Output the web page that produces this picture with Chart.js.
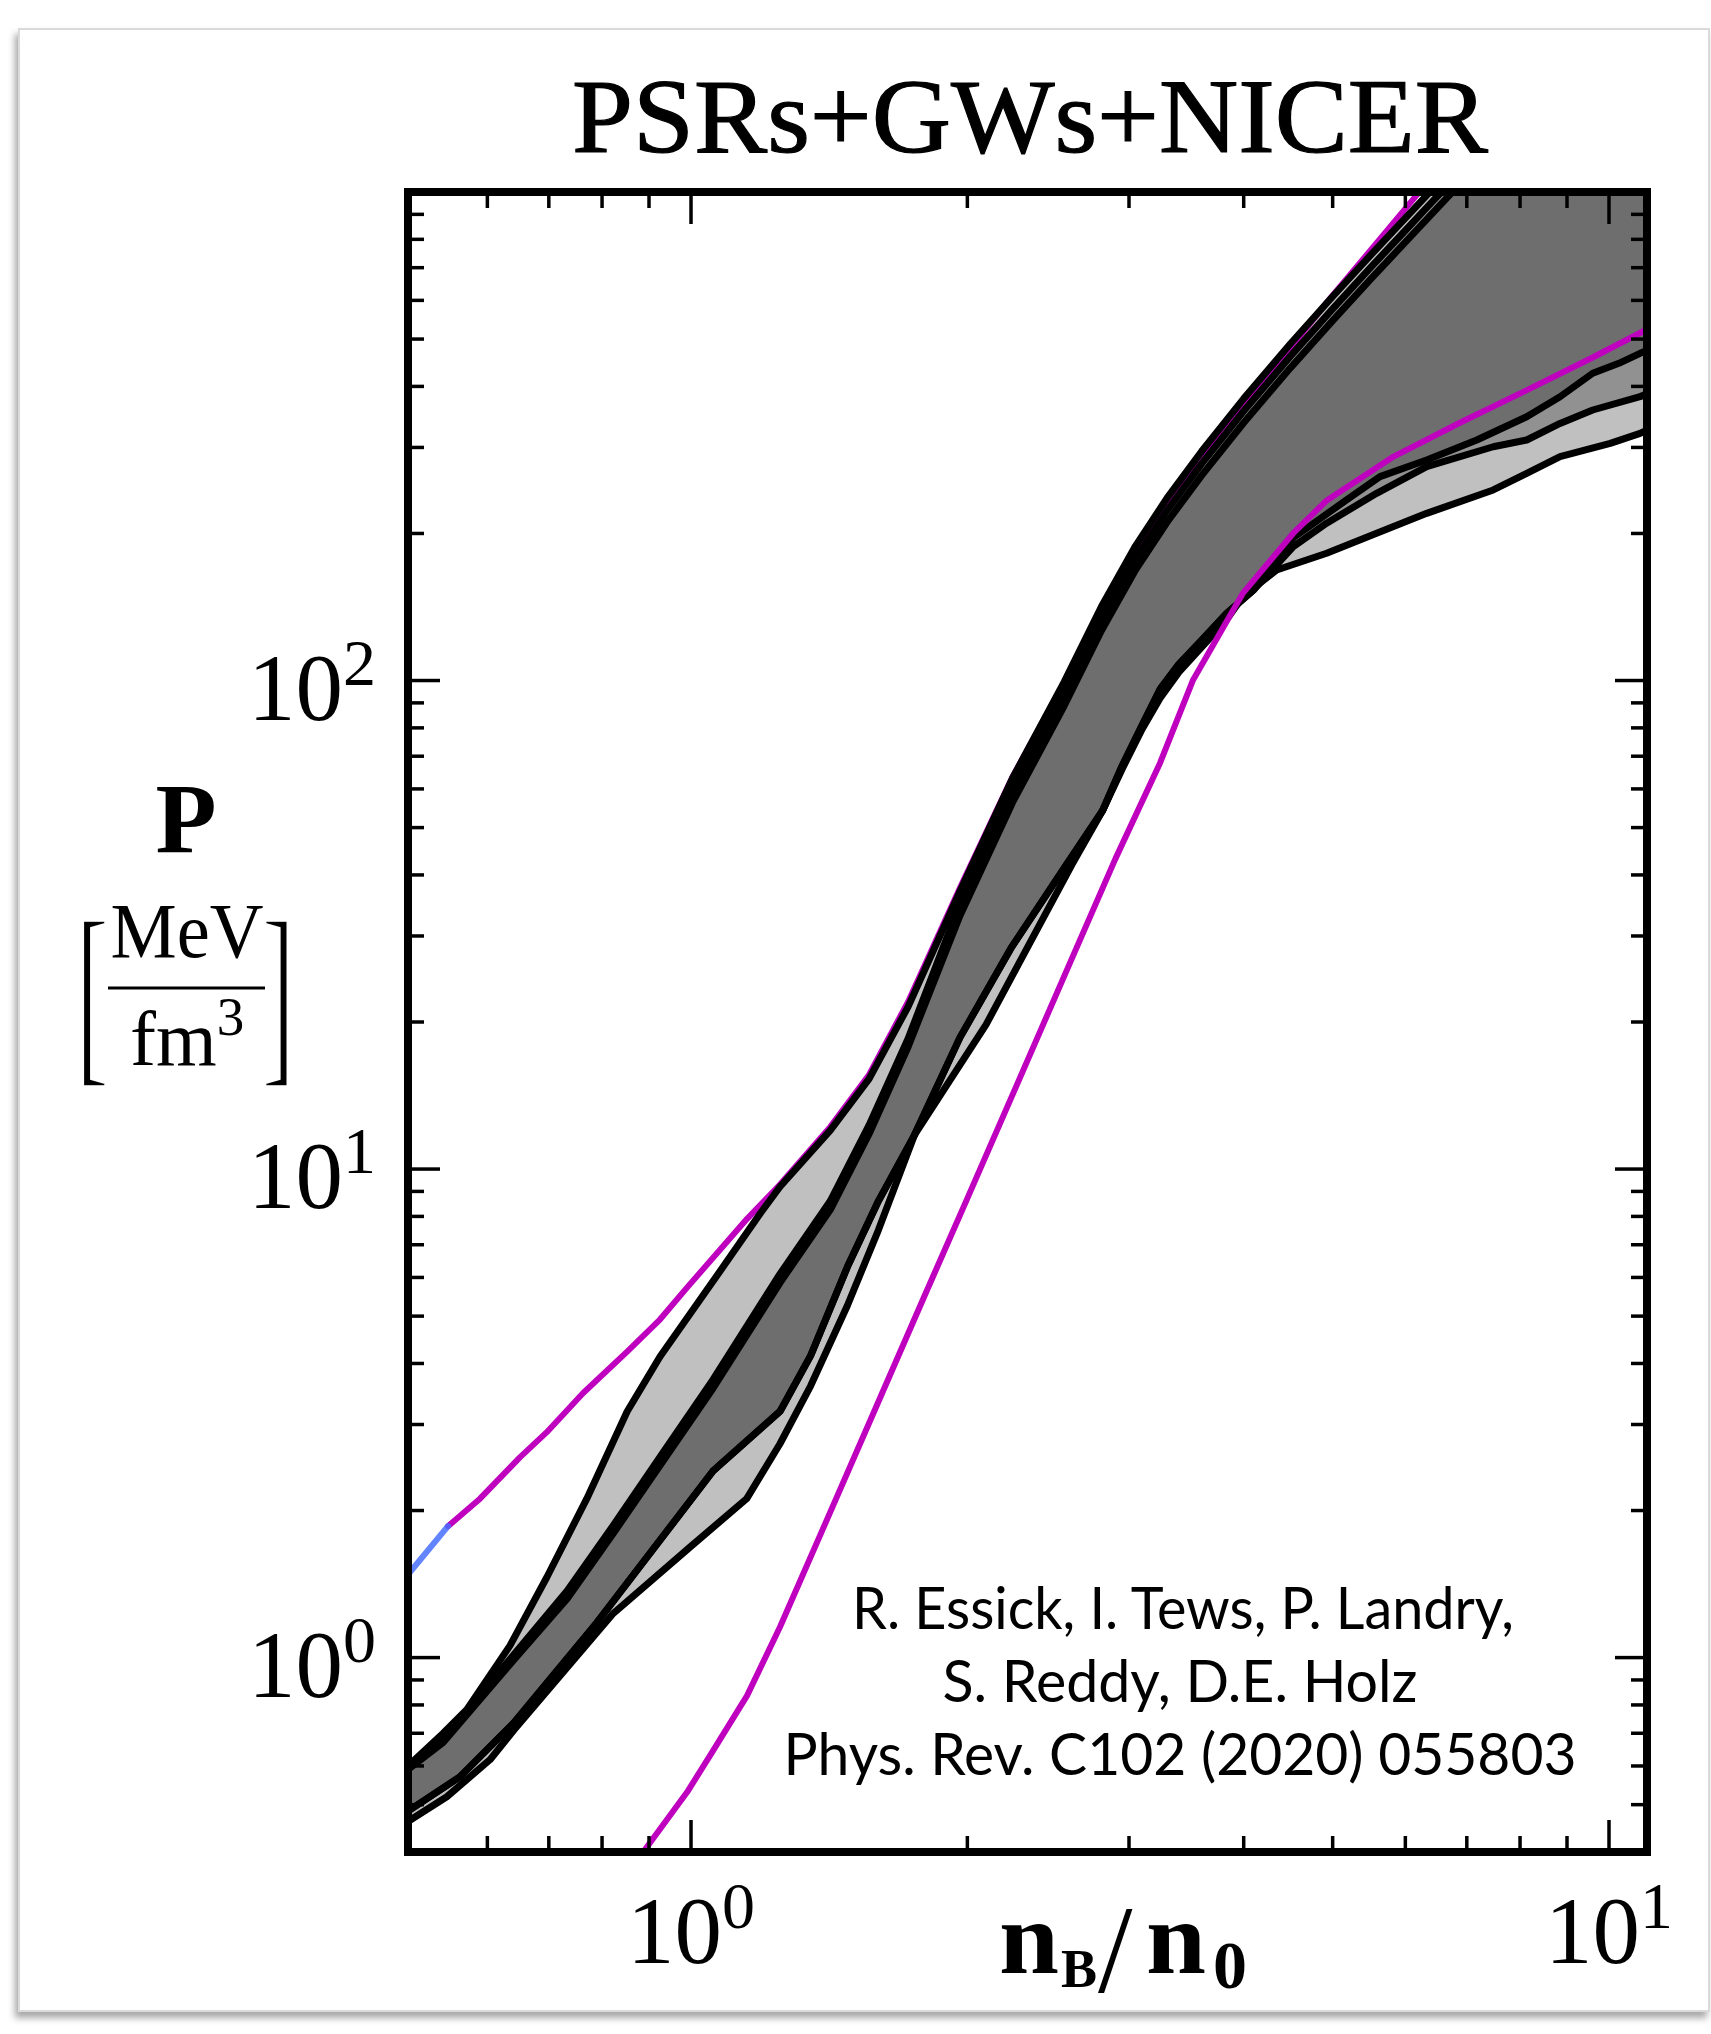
<!DOCTYPE html>
<html>
<head>
<meta charset="utf-8">
<script src="https://cdn.jsdelivr.net/npm/chart.js@4.4.1/dist/chart.umd.min.js"></script>
<style>
  html, body { margin: 0; padding: 0; background: #fff; }
  body { width: 1711px; height: 2034px; position: relative; overflow: hidden; }
  #sheet { position: absolute; left: 18px; top: 28px; width: 1688px; height: 1980px;
           border: 2px solid #dadada; box-shadow: -3px 6px 7px rgba(0,0,0,0.35); background: #fff; }
  #plot { position: absolute; left: 0; top: 0; }
  #labels { position: absolute; left: 0; top: 0; }
</style>
</head>
<body>
<div id="sheet"></div>
<canvas id="plot" width="1711" height="2034"></canvas>
<svg id="labels" width="1711" height="2034" xmlns="http://www.w3.org/2000/svg">
  <g font-family="Liberation Serif, Times New Roman, serif" fill="#000">
    <text x="1030" y="152" text-anchor="middle" font-size="106" stroke="#000" stroke-width="1.2" textLength="916" lengthAdjust="spacingAndGlyphs">PSRs+GWs+NICER</text>
    <text x="186" y="852" text-anchor="middle" font-size="100" font-weight="bold">P</text>
    <text transform="translate(76,1060) scale(1,2.05)" font-size="98" stroke="#fff" stroke-width="1.6">[</text>
    <text transform="translate(262,1060) scale(1,2.05)" font-size="98" stroke="#fff" stroke-width="1.6">]</text>
    <text x="187" y="957" text-anchor="middle" font-size="78" textLength="153" lengthAdjust="spacingAndGlyphs">MeV</text>
    <line x1="108" y1="988" x2="265" y2="988" stroke="#000" stroke-width="3"/>
    <text x="130" y="1065" font-size="78">fm<tspan dy="-30" font-size="55">3</tspan></text>
    <text x="999" y="1973" font-size="104" font-weight="bold" textLength="60" lengthAdjust="spacingAndGlyphs">n</text>
    <text x="1061" y="1987" font-size="54" font-weight="bold">B</text>
    <text x="1098" y="1992" font-size="124">/</text>
    <text x="1146" y="1973" font-size="104" font-weight="bold" textLength="60" lengthAdjust="spacingAndGlyphs">n</text>
    <text x="1213" y="1988" font-size="68" font-weight="bold">0</text>
  </g>
  <g font-family="Lato, Open Sans, sans-serif" font-size="58" fill="#000" text-anchor="middle">
    <text x="1183" y="1629" textLength="662" lengthAdjust="spacingAndGlyphs">R. Essick, I. Tews, P. Landry,</text>
    <text x="1180" y="1702" textLength="475" lengthAdjust="spacingAndGlyphs">S. Reddy, D.E. Holz</text>
    <text x="1180" y="1775" textLength="793" lengthAdjust="spacingAndGlyphs">Phys. Rev. C102 (2020) 055803</text>
  </g>
  <g id="ticklabels" font-family="Liberation Serif, Times New Roman, serif" fill="#000"></g>
</svg>
<script>
// Axis ranges (baryon density in units of n0, pressure in MeV/fm^3)
const xRange = [0.4917, 11.0];
const yRange = [0.4, 1000];

// Tick positions
const xMajorTicks = [1, 10];
const xMinorTicks = [0.6, 0.7, 0.8, 0.9, 2, 3, 4, 5, 6, 7, 8, 9];
const yMajorTicks = [1, 10, 100];
const yMinorTicks = [0.5, 0.6, 0.7, 0.8, 0.9, 2, 3, 4, 5, 6, 7, 8, 9,
                     20, 30, 40, 50, 60, 70, 80, 90, 200, 300, 400, 500, 600, 700, 800, 900];
const xTickLabels = [{ v: 1, base: '10', exp: '0' }, { v: 10, base: '10', exp: '1' }];
const yTickLabels = [{ v: 1, base: '10', exp: '0' }, { v: 10, base: '10', exp: '1' }, { v: 100, base: '10', exp: '2' }];

// Low-density crust segment
const crustX = [0.4917, 0.5436];
const crustY = [1.479, 1.858];

// Magenta envelope, upper branch
const magUpperX = [0.5436, 0.589, 0.651, 0.696, 0.763, 0.852, 0.925, 0.99, 1.151, 1.25, 1.418, 1.563, 1.724, 1.963, 2.24, 2.55, 2.8, 3.05, 3.3, 3.6, 4.0, 4.5, 4.93, 5.5, 6.16, 6.6];
const magUpperY = [1.858, 2.115, 2.57, 2.89, 3.48, 4.23, 4.92, 5.72, 7.91, 9.3, 12.2, 15.6, 22.0, 37.6, 63.5, 99, 140, 184, 228, 285, 366, 480, 595, 760, 981, 1130];

// Magenta envelope, lower branch
const magLowerX = [0.87, 0.887, 0.99, 1.057, 1.151, 1.25, 1.418, 1.6, 1.8, 2.0, 2.3, 2.6, 2.9, 3.243, 3.523, 3.993, 4.527, 4.93, 5.82, 6.88, 8.14, 9.61, 10.86, 11.2];
const magLowerY = [0.37, 0.4, 0.53, 0.645, 0.836, 1.155, 1.985, 3.34, 5.55, 8.71, 15.9, 27.0, 43.2, 67.8, 100.3, 151, 200, 234, 287, 337, 393, 459, 517, 532];

// Credible region A (widest)
const regionALowerX = [0.4917, 0.542, 0.604, 0.641, 0.823, 1.0, 1.150, 1.25, 1.35, 1.48, 1.6, 1.752, 2.096, 2.35, 2.6, 2.808, 2.95, 3.1, 3.243, 3.4, 3.6, 3.83, 3.997, 4.345, 4.925, 5.583, 6.33, 7.48, 8.135, 8.844, 10.03, 10.81, 11.2];
const regionALowerY = [0.462, 0.519, 0.618, 0.71, 1.232, 1.69, 2.116, 2.74, 3.6, 5.25, 7.5, 11.75, 19.75, 29.5, 42, 54.2, 66, 79.5, 92, 104, 117, 133, 149, 168.4, 182.2, 200.1, 219.9, 245.5, 265.6, 287.2, 305.9, 320.6, 331];
const regionAUpperX = [0.4917, 0.537, 0.570, 0.635, 0.697, 0.770, 0.852, 0.925, 1.075, 1.189, 1.25, 1.418, 1.563, 1.724, 1.963, 2.24, 2.55, 2.8, 3.05, 3.3, 3.6, 4.0, 4.5, 5.0, 5.5, 6.0, 6.3, 7.0, 11.5];
const regionAUpperY = [0.60, 0.70, 0.783, 1.058, 1.464, 2.115, 3.19, 4.13, 6.17, 8.10, 9.2, 12.0, 15.3, 21.5, 37, 63.1, 99.4, 141.8, 188.7, 236.2, 294.6, 377.6, 489.6, 611, 743, 884, 975, 1204, 3248];

// Credible region B
const regionBLowerX = [0.4917, 0.56, 0.641, 0.79, 1.057, 1.25, 1.35, 1.48, 1.6, 1.752, 1.963, 2.236, 2.547, 2.808, 2.95, 3.1, 3.243, 3.4, 3.6, 3.83, 4.099, 4.53, 4.925, 5.583, 6.33, 7.48, 8.135, 8.844, 9.6, 10.81, 11.2];
const regionBLowerY = [0.485, 0.57, 0.735, 1.18, 2.41, 3.19, 4.15, 6.3, 8.6, 11.75, 18.58, 28.5, 41.2, 54.2, 67, 81, 96, 108, 121, 137, 153.2, 187.9, 209.9, 241.7, 274, 301, 310.7, 336, 357.9, 381, 393];
const regionBUpperX = [0.4917, 0.537, 0.64, 0.733, 0.822, 0.918, 1.057, 1.25, 1.418, 1.563, 1.724, 1.963, 2.24, 2.55, 2.8, 3.05, 3.3, 3.6, 4.0, 4.5, 5.0, 5.5, 6.0, 6.3, 7.0, 11.5];
const regionBUpperY = [0.595, 0.68, 1.01, 1.37, 1.86, 2.52, 3.71, 6.1, 8.6, 12.3, 18.5, 34.9, 59.5, 93.8, 133.8, 178, 222.8, 277.9, 356.2, 461.9, 576.4, 701, 834, 920, 1136, 3064];

// Credible region C (narrowest at high density)
const regionCLowerX = [0.4917, 0.56, 0.641, 0.79, 1.057, 1.25, 1.35, 1.48, 1.6, 1.752, 1.963, 2.236, 2.547, 2.808, 2.95, 3.1, 3.243, 3.4, 3.6, 3.83, 4.099, 4.53, 5.178, 5.63, 6.33, 7.178, 8.135, 8.844, 9.6, 10.25, 10.81, 11.2];
const regionCLowerY = [0.485, 0.57, 0.735, 1.18, 2.41, 3.19, 4.15, 6.3, 8.6, 11.75, 18.58, 28.5, 41.2, 54.2, 67, 81, 96, 108, 121, 137, 153.2, 196, 234.2, 261.5, 282.8, 310.7, 346.7, 381, 425.6, 446, 467.4, 480];
const regionCUpperX = [0.4917, 0.537, 0.64, 0.733, 0.822, 0.918, 1.057, 1.25, 1.418, 1.563, 1.724, 1.963, 2.24, 2.55, 2.8, 3.05, 3.3, 3.6, 4.0, 4.5, 5.0, 5.5, 6.0, 6.3, 7.0, 11.5];
const regionCUpperY = [0.59, 0.67, 0.985, 1.32, 1.79, 2.42, 3.56, 5.85, 8.25, 11.8, 17.8, 33.0, 56.3, 88.8, 126.6, 168.5, 210.9, 263, 337.1, 437.1, 545.5, 663.4, 789.3, 870.5, 1075, 2900];

const pts = (xs, ys) => xs.map((x, i) => ({ x, y: ys[i] }));

const regions = [
  [pts(regionALowerX, regionALowerY), pts(regionAUpperX, regionAUpperY)],
  [pts(regionBLowerX, regionBLowerY), pts(regionBUpperX, regionBUpperY)],
  [pts(regionCLowerX, regionCLowerY), pts(regionCUpperX, regionCUpperY)]
];

const MAGENTA = '#bf00bf';
const line = (data, color, width, order) => ({
  data, borderColor: color, borderWidth: width, order,
  pointRadius: 0, fill: false, tension: 0
});

const datasets = [
  line(pts(magLowerX, magLowerY), MAGENTA, 6, 0),
  line(pts(crustX, crustY), 'rgba(70,110,255,0.85)', 6, 1),
  line(pts(regionALowerX, regionALowerY), '#000', 7, 2),
  line(pts(regionAUpperX, regionAUpperY), '#000', 7, 2),
  line(pts(regionBLowerX, regionBLowerY), '#000', 7, 2),
  line(pts(regionBUpperX, regionBUpperY), '#000', 7, 2),
  line(pts(regionCLowerX, regionCLowerY), '#000', 7, 2),
  line(pts(regionCUpperX, regionCUpperY), '#000', 7, 2),
  line(pts(magUpperX, magUpperY), MAGENTA, 6, 3)
];

// Shaded credible regions: each band is a translucent grey polygon,
// so overlaps darken where the regions agree.
const bandPlugin = {
  id: 'bands',
  beforeDatasetsDraw(chart) {
    const { ctx, chartArea: a, scales: { x, y } } = chart;
    ctx.save();
    ctx.beginPath();
    ctx.rect(a.left, a.top, a.right - a.left, a.bottom - a.top);
    ctx.clip();
    ctx.fillStyle = 'rgba(0,0,0,0.247)';
    for (const [lower, upper] of regions) {
      ctx.beginPath();
      lower.forEach((p, i) => {
        const px = x.getPixelForValue(p.x), py = y.getPixelForValue(p.y);
        i ? ctx.lineTo(px, py) : ctx.moveTo(px, py);
      });
      for (let i = upper.length - 1; i >= 0; i--) {
        ctx.lineTo(x.getPixelForValue(upper[i].x), y.getPixelForValue(upper[i].y));
      }
      ctx.closePath();
      ctx.fill();
    }
    ctx.restore();
  }
};

// Boxed frame with inward ticks on all four sides, plus tick labels
const framePlugin = {
  id: 'frame',
  afterDatasetsDraw(chart) {
    const { ctx, chartArea: a, scales: { x, y } } = chart;
    ctx.save();
    ctx.strokeStyle = '#000';
    ctx.lineCap = 'butt';
    const seg = (x1, y1, x2, y2) => { ctx.beginPath(); ctx.moveTo(x1, y1); ctx.lineTo(x2, y2); ctx.stroke(); };
    const drawX = (vals, len) => vals.forEach(v => {
      const px = x.getPixelForValue(v);
      seg(px, a.bottom, px, a.bottom - len);
      seg(px, a.top, px, a.top + len);
    });
    const drawY = (vals, len) => vals.forEach(v => {
      const py = y.getPixelForValue(v);
      seg(a.left, py, a.left + len, py);
      seg(a.right, py, a.right - len, py);
    });
    ctx.lineWidth = 3.5;
    drawX(xMinorTicks, 16); drawY(yMinorTicks, 16);
    drawX(xMajorTicks, 32); drawY(yMajorTicks, 32);
    ctx.lineWidth = 8;
    ctx.strokeRect(a.left, a.top, a.right - a.left, a.bottom - a.top);
    ctx.restore();
  },
  afterRender(chart) {
    if (chart.$labelsDone) return;
    chart.$labelsDone = true;
    const { chartArea: a, scales: { x, y } } = chart;
    const g = document.getElementById('ticklabels');
    const NS = 'http://www.w3.org/2000/svg';
    const make = (t, px, py, anchor) => {
      const el = document.createElementNS(NS, 'text');
      el.setAttribute('x', px); el.setAttribute('y', py);
      el.setAttribute('text-anchor', anchor);
      el.setAttribute('font-size', '95');
      el.appendChild(document.createTextNode(t.base));
      const sup = document.createElementNS(NS, 'tspan');
      sup.setAttribute('dy', '-35'); sup.setAttribute('font-size', '66');
      sup.textContent = t.exp;
      el.appendChild(sup);
      g.appendChild(el);
    };
    xTickLabels.forEach(t => make(t, x.getPixelForValue(t.v), a.bottom + 111, 'middle'));
    yTickLabels.forEach(t => make(t, a.left - 32, y.getPixelForValue(t.v) + 39, 'end'));
  }
};

new Chart(document.getElementById('plot'), {
  type: 'line',
  data: { datasets },
  options: {
    responsive: false,
    animation: false,
    devicePixelRatio: 1,
    layout: { padding: { left: 408, right: 64, top: 192, bottom: 182 } },
    plugins: { legend: { display: false }, tooltip: { enabled: false }, title: { display: false } },
    scales: {
      x: { type: 'logarithmic', min: xRange[0], max: xRange[1], display: false },
      y: { type: 'logarithmic', min: yRange[0], max: yRange[1], display: false }
    },
    elements: { line: { borderJoinStyle: 'round', borderCapStyle: 'round' } }
  },
  plugins: [bandPlugin, framePlugin]
});
</script>
</body>
</html>
